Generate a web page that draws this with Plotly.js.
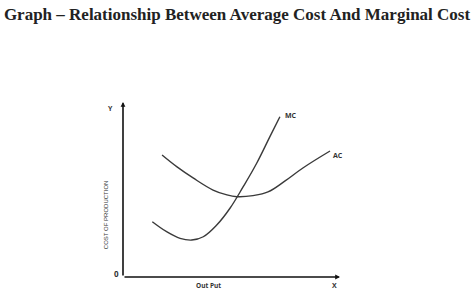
<!DOCTYPE html>
<html><head><meta charset="utf-8">
<script src="https://cdn.plot.ly/plotly-3.0.1.min.js"></script>
<style>body{margin:0;background:#fff}#c{width:474px;height:306px}</style>
</head><body><div id="c"></div>
<script>
// Output (x) and cost (y) readings, arbitrary units 0..10
const mcOutput = [1.35, 2.01, 2.63, 3.17, 3.70, 4.32, 4.93, 5.54, 6.16, 6.77, 7.23];
const mcCost   = [3.16, 2.59, 2.21, 2.11, 2.30, 2.97, 3.93, 5.16, 6.50, 8.02, 9.16];
const acOutput = [1.80, 2.49, 3.23, 4.15, 4.79, 5.25, 5.99, 6.68, 7.47, 8.29, 9.54];
const acCost   = [6.97, 6.29, 5.66, 4.97, 4.69, 4.59, 4.65, 4.86, 5.49, 6.23, 7.20];
const curveNames = ["MC", "AC"];
const titleText = "Graph – Relationship Between Average Cost And Marginal Cost";
const xLabel = "Out Put";
const yLabel = "COST OF PRODUCTION";

const lineStyle = {color: "#3a3a3a", width: 1.4, shape: "spline", smoothing: 1.1};
const traces = [
  {x: mcOutput, y: mcCost, mode: "lines", line: lineStyle, name: curveNames[0], hoverinfo: "skip"},
  {x: acOutput, y: acCost, mode: "lines", line: lineStyle, name: curveNames[1], hoverinfo: "skip"}
];
const small = {family: "Open Sans, Arial, sans-serif", size: 7, color: "#333333"};
const pap = (x, y, text, font, extra) => Object.assign({x: x, y: y, xref: "paper", yref: "paper", text: text, showarrow: false, font: font}, extra || {});
const layout = {
  width: 474, height: 306,
  margin: {l: 123, r: 134, t: 102, b: 29},
  paper_bgcolor: "#fff", plot_bgcolor: "#fff",
  showlegend: false,
  title: {text: "<b>" + titleText + "</b>", x: 0.5, xanchor: "center", y: 0.955, yanchor: "middle",
          font: {family: "Liberation Serif, serif", size: 17, color: "#222"}},
  xaxis: {range: [0, 10], showgrid: false, zeroline: false, showline: false, showticklabels: false, ticks: "", fixedrange: true},
  yaxis: {range: [0, 10], showgrid: false, zeroline: false, showline: false, showticklabels: false, ticks: "", fixedrange: true},
  annotations: [
    {x: 10, y: 0, ax: 0, ay: 0, axref: "x", ayref: "y", xref: "x", yref: "y", showarrow: true, arrowhead: 2, arrowsize: 0.6, arrowwidth: 1.6, arrowcolor: "#111", text: ""},
    {x: 0, y: 10, ax: 0, ay: 0, axref: "x", ayref: "y", xref: "x", yref: "y", showarrow: true, arrowhead: 2, arrowsize: 0.6, arrowwidth: 1.6, arrowcolor: "#111", text: ""},
    pap(0.81, 0.96, "<b>" + curveNames[0] + "</b>", small),
    pap(1.025, 0.731, "<b>" + curveNames[1] + "</b>", small),
    pap(-0.078, 1.0, "<b>Y</b>", small),
    pap(-0.05, -0.023, "<b>0</b>", {family: "Open Sans, Arial, sans-serif", size: 8, color: "#333333"}),
    pap(0.995, -0.086, "<b>X</b>", small),
    pap(0.394, -0.086, "<b>" + xLabel + "</b>", {family: "Open Sans, Arial, sans-serif", size: 6.5, color: "#333333"}),
    pap(-0.101, 0.354, yLabel, {family: "Liberation Sans Narrow, Arial Narrow, sans-serif", size: 6, color: "#333333"}, {textangle: -90})
  ]
};
Plotly.newPlot("c", traces, layout, {displayModeBar: false, staticPlot: true});
</script></body></html>
